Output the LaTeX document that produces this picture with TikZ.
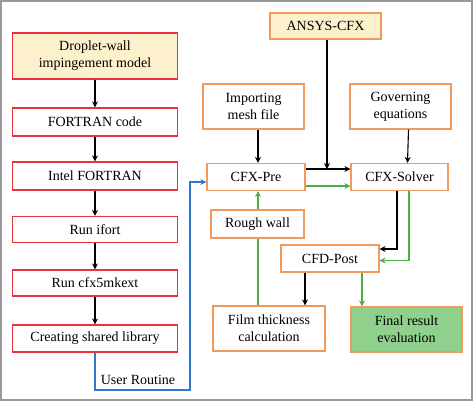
\documentclass[tikz,border=0pt]{standalone}
\usepackage{fontspec}
\setmainfont{Liberation Serif}
\usetikzlibrary{arrows.meta}
\definecolor{boxred}{HTML}{E8323C}
\definecolor{boxorange}{HTML}{F29A5A}
\definecolor{paleyellow}{HTML}{FDF0CC}
\definecolor{palegreen}{HTML}{8FD08C}
\definecolor{linegreen}{HTML}{4EAE45}
\definecolor{lineblue}{HTML}{2F78CC}
\begin{document}
\begin{tikzpicture}[x=1pt, y=-1pt, >={Stealth[length=6pt,width=6pt]},
    every node/.style={font=\fontsize{14}{17}\selectfont, align=center, inner sep=0pt},
    redbox/.style={draw=boxred, line width=1.2pt, minimum width=165pt},
    orangebox/.style={draw=boxorange, line width=1.2pt},
    flow/.style={->, line width=1.1pt},
    gflow/.style={->, line width=1.1pt, linegreen}]
  \useasboundingbox (0,0) rectangle (474,402);
  \draw [gray!80, line width=2pt] (1,1) rectangle (472,400);
  % left column
  \node (drop) at (95,56) [redbox, minimum height=46pt, fill=paleyellow] {Droplet-wall\\impingement model};
  \node (fcode) at (95,122) [redbox, minimum height=28pt] {FORTRAN code};
  \node (intel) at (95,176) [redbox, minimum height=28pt] {Intel FORTRAN};
  \node (ifort) at (95,229.5) [redbox, minimum height=26pt] {Run ifort};
  \node (mkext) at (95,283) [redbox, minimum height=26pt] {Run cfx5mkext};
  \node (shlib) at (95,338.5) [redbox, minimum height=27pt] {Creating shared library};
  \draw [flow] (drop) -- (fcode);
  \draw [flow] (fcode) -- (intel);
  \draw [flow] (intel) -- (ifort);
  \draw [flow] (ifort) -- (mkext);
  \draw [flow] (mkext) -- (shlib);
  % right part
  \node (ansys) at (325.5,26) [orangebox, minimum width=111pt, minimum height=26pt, fill=paleyellow] {ANSYS-CFX};
  \node (mesh) at (253.5,106.5) [orangebox, minimum width=101pt, minimum height=45pt] {Importing\\mesh file};
  \node (gov) at (400.5,106.5) [orangebox, minimum width=101pt, minimum height=45pt] {Governing\\equations};
  \node (pre) at (256,177) [orangebox, minimum width=98pt, minimum height=27pt] {CFX-Pre};
  \node (solver) at (399.5,177) [orangebox, minimum width=97pt, minimum height=27pt] {CFX-Solver};
  \node (rough) at (257.5,224) [orangebox, minimum width=93pt, minimum height=28pt] {Rough wall};
  \node (post) at (330,258.5) [orangebox, minimum width=98pt, minimum height=27pt] {CFD-Post};
  \node (film) at (269,328.5) [orangebox, minimum width=112pt, minimum height=45pt] {Film thickness\\calculation};
  \node (final) at (406.5,329.5) [orangebox, minimum width=111pt, minimum height=45pt, fill=palegreen] {Final result\\evaluation};
  % user routine link
  \coordinate (ur) at (190,390);
  \draw [->, line width=1.1pt, lineblue] (shlib.south) |- (ur) |- ([yshift=-5pt]pre.west);
  \node (urlabel) at (138,380) {User Routine};
  % black connectors
  \coordinate (meshx) at (258,0);
  \draw [flow] (mesh.south -| meshx) -- (pre.north -| meshx);
  \draw [flow] ([yshift=8pt]pre.east) -- ([yshift=8pt]solver.west);
  \draw [flow] ([xshift=1.5pt]ansys.south) -- ([xshift=1.5pt,yshift=8pt]ansys.south |- pre.east);
  \draw [flow] ([xshift=8pt]gov.south) -- ([xshift=8pt]solver.north);
  \draw [flow] ([xshift=-2.5pt]solver.south) |- ([yshift=9.5pt]post.east);
  \draw [flow] ([xshift=-25pt]post.south) -- ([xshift=-25pt]post.south |- film.north);
  % green connectors
  \draw [gflow] ([yshift=-9pt]pre.east) -- ([yshift=-9pt]solver.west);
  \draw [gflow] ([xshift=9.5pt]solver.south) |- ([yshift=-2pt]post.east);
  \draw [gflow] ([xshift=32pt]post.south) -- ([xshift=32pt]post.south |- final.north);
  \draw [linegreen, line width=1.1pt] (film.north -| meshx) -- (rough.south -| meshx);
  \draw [gflow] (rough.north -| meshx) -- (pre.south -| meshx);
\end{tikzpicture}
\end{document}
